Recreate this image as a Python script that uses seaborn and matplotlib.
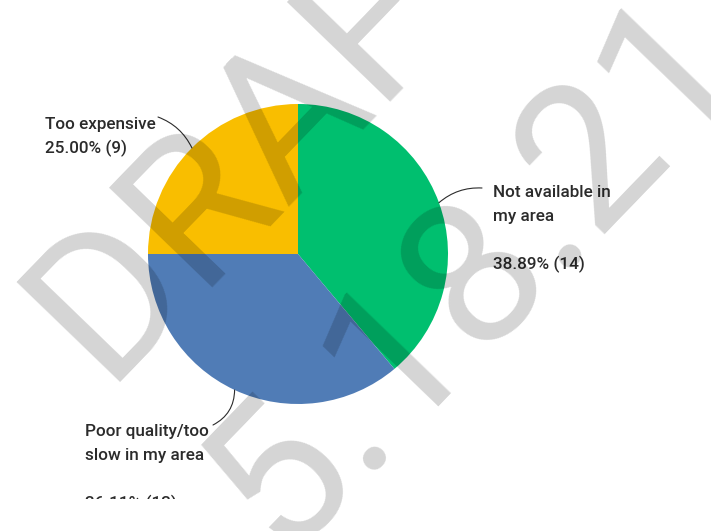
import numpy as np
import matplotlib
matplotlib.use("Agg")
import matplotlib.pyplot as plt
import seaborn as sns

# data
categories = ["Not available in my area", "Poor quality/too slow in my area", "Too expensive"]
counts = [14, 13, 9]
percents = [38.89, 36.11, 25.00]
slice_colors = ["#00BF6F", "#507CB6", "#F9BE00"]

# label lines (blank line kept where the chart has one)
label_lines = [
    ["Not available in", "my area", ""],
    ["Poor quality/too", "slow in my area", ""],
    ["Too expensive"],
]

sns.set_theme(style="white")
plt.rcParams["font.family"] = ["Roboto", "DejaVu Sans"]

W, H = 711, 531
fig = plt.figure(figsize=(W / 100, H / 100), dpi=100)
fig.patch.set_facecolor("white")
# axes in pixel units, y measured up from the figure bottom; bottom strip clips the last label
bottom_px = 32
ax = fig.add_axes([0, bottom_px / H, 1, (H - bottom_px) / H])

cx, cy, r = 298, H - 254, 150
wedges, _ = ax.pie(counts, colors=slice_colors, startangle=90, counterclock=False,
                   center=(cx, cy), radius=r, wedgeprops=dict(linewidth=0))
ax.set_xlim(0, W)
ax.set_ylim(bottom_px, H)
ax.set_aspect("equal")
ax.axis("off")

# layout of labels: left x, first baseline (image px), leader start (image px), curvature
layout = [
    dict(x=493, y=197, lead=(482, 188), rad=0.2),
    dict(x=85, y=436, lead=(213, 425), rad=0.3),
    dict(x=45, y=129, lead=(158, 117), rad=-0.2),
]
step = 24
txt_color = "#2b2b2b"

for w, lines, pct, n, lay in zip(wedges, label_lines, percents, counts, layout):
    all_lines = lines + [f"{pct:.2f}% ({n})"]
    for i, line in enumerate(all_lines):
        if not line:
            continue
        ax.text(lay["x"], H - (lay["y"] + i * step), line, ha="left", va="baseline",
                fontsize=12.3, fontweight="medium", color=txt_color, clip_on=True)
    ang = np.deg2rad((w.theta1 + w.theta2) / 2)
    px, py = cx + r * np.cos(ang), cy + r * np.sin(ang)
    ax.annotate("", xy=(px, py), xytext=(lay["lead"][0], H - lay["lead"][1]),
                arrowprops=dict(arrowstyle="-", color=txt_color, lw=0.8,
                                shrinkA=0, shrinkB=0,
                                connectionstyle=f"arc3,rad={lay['rad']}"))

# DRAFT watermark
wm = dict(rotation=46, rotation_mode="anchor", ha="left", va="baseline",
          fontsize=146, color="black", alpha=0.17, zorder=10)
fig.text(104 / W, 1 - 383 / H, "DRAFT", **wm)
fig.text(281 / W, 1 - 554 / H, "5.18.21", **wm)

fig.savefig("out.png", dpi=100, facecolor="white")
